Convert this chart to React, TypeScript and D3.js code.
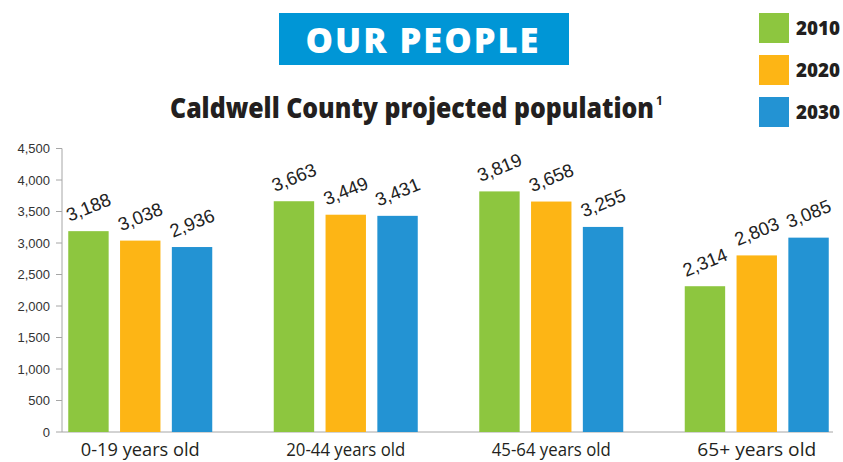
import React from "react";
import * as d3 from "d3";

const categories = ["0-19 years old", "20-44 years old", "45-64 years old", "65+ years old"];
const seriesNames = ["2010", "2020", "2030"];
const values2010 = [3188, 3663, 3819, 2314];
const values2020 = [3038, 3449, 3658, 2803];
const values2030 = [2936, 3431, 3255, 3085];
const yTicks = [0, 500, 1000, 1500, 2000, 2500, 3000, 3500, 4000, 4500];
const colors = ["#8dc63f", "#fdb515", "#2393d3"];

const W = 843;
const H = 462;

export default function App() {
  const series = [values2010, values2020, values2030];
  const y = d3.scaleLinear().domain([0, 4500]).range([432, 148.5]);
  const x = d3.scaleBand().domain(categories).range([37.5, 859.5]).paddingInner(0).paddingOuter(0);
  const inner = d3.scaleBand().domain(seriesNames).range([0, 144]).paddingInner(0.22).paddingOuter(0);
  const fmt = d3.format(",");
  const textColor = "#231f20";

  return (
    <svg width={W} height={H} style={{ position: "absolute", left: 0, top: 0, background: "#fff" }}>
      {/* header */}
      <rect x={279} y={13} width={290} height={52} fill="#0096d6" />
      <text x={423} y={53} textAnchor="middle" fill="#fff" fontFamily="Open Sans" fontWeight={800}
        fontSize={35} letterSpacing={2} textLength={235} lengthAdjust="spacingAndGlyphs">OUR PEOPLE</text>
      <text x={170} y={118} fill={textColor} fontFamily="Open Sans" fontWeight={800} fontSize={28}
        textLength={484} lengthAdjust="spacingAndGlyphs">Caldwell County projected population</text>
      <text x={656} y={105} fill={textColor} fontFamily="Open Sans" fontWeight={700} fontSize={12}>1</text>

      {/* legend */}
      {seriesNames.map((s, i) => (
        <g key={s}>
          <rect x={759} y={13 + i * 42} width={30} height={30} fill={colors[i]} />
          <text x={796} y={35 + i * 42} fill={textColor} fontFamily="Open Sans" fontWeight={800}
            fontSize={19} textLength={44} lengthAdjust="spacingAndGlyphs">{s}</text>
        </g>
      ))}

      {/* y axis */}
      <line x1={62} x2={62} y1={y(4500)} y2={y(0)} stroke="#a6a6a6" strokeWidth={1} />
      {yTicks.map((t) => (
        <g key={t}>
          <line x1={56} x2={62} y1={y(t)} y2={y(t)} stroke="#a6a6a6" strokeWidth={1} />
          <text x={50} y={y(t)} dy="0.35em" textAnchor="end" fill="#333" fontFamily="Liberation Sans, Arial"
            fontSize={13}>{fmt(t)}</text>
        </g>
      ))}
      <line x1={62} x2={833} y1={y(0)} y2={y(0)} stroke="#a6a6a6" strokeWidth={1} />

      {/* bars */}
      {categories.map((c, ci) => {
        const gx = (x(c) as number) + x.bandwidth() / 2 - 72;
        return (
          <g key={c}>
            {series.map((vals, si) => {
              const bx = gx + (inner(seriesNames[si]) as number);
              const bw = inner.bandwidth();
              const v = vals[ci];
              const cx = bx + bw / 2;
              const ly = y(v) - 24;
              return (
                <g key={si}>
                  <rect x={bx} y={y(v)} width={bw} height={y(0) - y(v)} fill={colors[si]} />
                  <text x={cx} y={ly} dy="0.35em" textAnchor="middle" fill="#222"
                    fontFamily="Liberation Sans, Arial" fontSize={18.5}
                    transform={`rotate(-22 ${cx} ${ly})`}>{fmt(v)}</text>
                </g>
              );
            })}
            <text x={(x(c) as number) + x.bandwidth() / 2} y={456} textAnchor="middle" fill={textColor}
              fontFamily="Open Sans" fontSize={19} textLength={119} lengthAdjust="spacingAndGlyphs">{c}</text>
          </g>
        );
      })}
    </svg>
  );
}
